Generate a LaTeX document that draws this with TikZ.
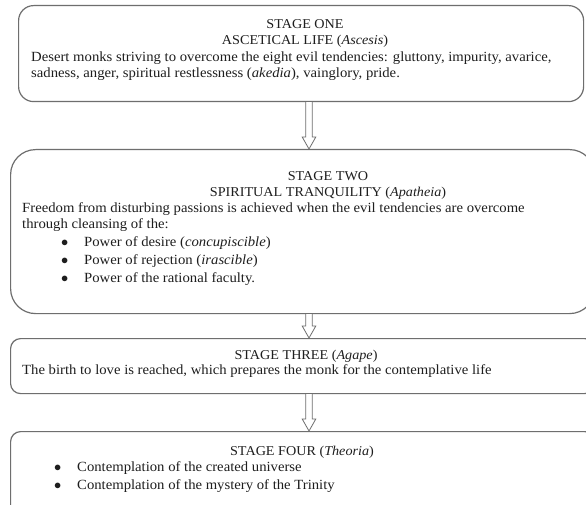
\documentclass[tikz,border=0pt]{standalone}
\usepackage{fontspec}
\setmainfont{Liberation Serif}[FakeStretch=1.05]
\usepackage{tikz}
\usetikzlibrary{calc}
\definecolor{StLine}{HTML}{6E6E6E}
\definecolor{StText}{HTML}{1E1E1E}
\newcommand{\StBullet}{\makebox[23pt][l]{$\bullet$}}
\newcommand{\hollowarrow}[2]{%
  \path (#1.south -| ax) coordinate (hs) (#2.north -| ax) coordinate (he);
  \draw[harrow] ($(hs)+(-3.3pt,0)$) -- ($(he)+(-3.3pt,12pt)$) -- ($(he)+(-6.8pt,12pt)$)
    -- (he) -- ($(he)+(6.8pt,12pt)$) -- ($(he)+(3.3pt,12pt)$) -- ($(hs)+(3.3pt,0)$);}

\begin{document}
\begin{tikzpicture}[
    x=1pt,y=-1pt,font=\fontsize{14}{16}\selectfont,text=StText,
    stage/.style={draw=StLine,line width=1.2pt,fill=white,anchor=north west,inner sep=0pt},
    % text nodes hang from the first baseline minus the strut height
    head/.style={align=center,anchor=north,inner sep=0pt,yshift=11.2pt,execute at begin node=\strut,
      font=\fontsize{13.5}{16}\selectfont},
    body/.style={align=left,anchor=north west,inner sep=0pt,yshift=11.2pt,execute at begin node=\strut},
    harrow/.style={draw=StLine,line width=0.8pt,fill=white,line join=miter}
  ]
    \clip (0,0) rectangle (586,505);
    \fill[white] (0,0) rectangle (586,505);
    \coordinate (ax) at (309,0);

    \node[stage,rounded corners=15pt,minimum width=565pt,minimum height=96pt] (one) at (18,5) {};
    \node[head] (oneHead) at (305,31) {STAGE ONE\\ASCETICAL LIFE (\textit{Ascesis})};
    \node[body] (oneBody) at (31,63) {Desert monks striving to overcome the eight evil tendencies: gluttony, impurity, avarice,\\
      sadness, anger, spiritual restlessness (\textit{akedia}), vainglory, pride.};

    \node[stage,rounded corners=25pt,minimum width=584pt,minimum height=164pt] (two) at (10,149) {};
    \node[head] (twoHead) at (328,183) {STAGE TWO\\SPIRITUAL TRANQUILITY (\textit{Apatheia})};
    \node[body] (twoBody) at (22,214) {Freedom from disturbing passions is achieved when the evil tendencies are overcome\\
      through cleansing of the:};
    \node[body] (twoList) at (61,248) {\StBullet Power of desire (\textit{concupiscible})\\[2pt]
      \StBullet Power of rejection (\textit{irascible})\\[2pt]
      \StBullet Power of the rational faculty.};

    \node[stage,rounded corners=10pt,minimum width=584pt,minimum height=55pt] (three) at (10,338) {};
    \node[head] (threeHead) at (306,359) {STAGE THREE (\textit{Agape})};
    \node[body] (threeBody) at (22,374) {The birth to love is reached, which prepares the monk for the contemplative life};

    \node[stage,rounded corners=10pt,minimum width=584pt,minimum height=90pt] (four) at (10,431) {};
    \node[head] (fourHead) at (302,455) {STAGE FOUR (\textit{Theoria})};
    \node[body] (fourList) at (54,473) {\StBullet Contemplation of the created universe\\[2pt]
      \StBullet Contemplation of the mystery of the Trinity};

    \hollowarrow{one}{two}
    \hollowarrow{two}{three}
    \hollowarrow{three}{four}
  \end{tikzpicture}
\end{document}
